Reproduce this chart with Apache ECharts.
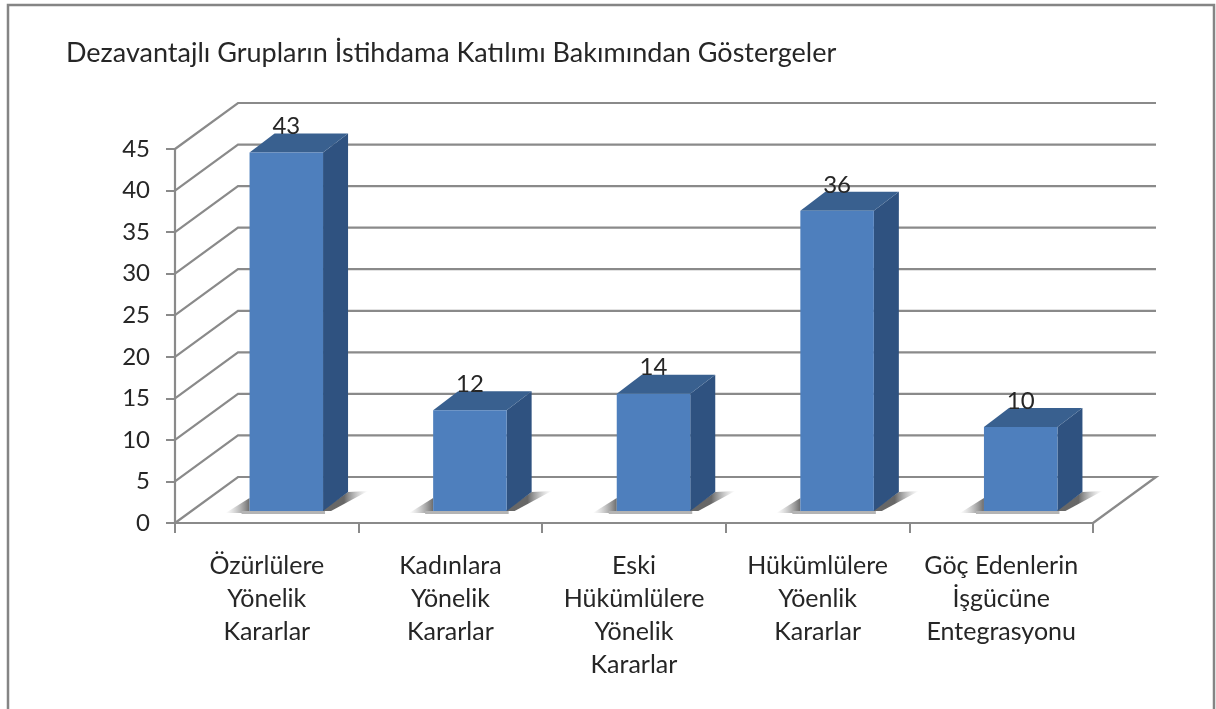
<!DOCTYPE html>
<html>
<head>
<meta charset="utf-8">
<title>Dezavantajlı Gruplar</title>
<script src="https://cdn.jsdelivr.net/npm/echarts@6/dist/echarts.min.js"></script>
<style>
    html, body { margin: 0; padding: 0; background: #fff; }
    /* the reference is a soft, scaled up scan */
    #chart { width: 1216px; height: 709px; filter: blur(0.5px); }
</style>
</head>
<body>
<div id="chart"></div>
<script>
    const chartTitle = 'Dezavantajlı Grupların İstihdama Katılımı Bakımından Göstergeler'
    const categories = [
        'Özürlülere\nYönelik\nKararlar',
        'Kadınlara\nYönelik\nKararlar',
        'Eski\nHükümlülere\nYönelik\nKararlar',
        'Hükümlülere\nYöenlik\nKararlar',
        'Göç Edenlerin\nİşgücüne\nEntegrasyonu'
    ]
    const values = [43, 12, 14, 36, 10]
    const yTicks = [0, 5, 10, 15, 20, 25, 30, 35, 40, 45]

    const fontFamily = 'Lato, "Open Sans", sans-serif'
    const textColor = '#262626'
    const lineColor = '#8a8a8a'

    // offset of the back wall from the front axes
    const wallX = 63
    const wallY = -46
    // bar box: its front face sits a little inside the floor
    const barWidth = 73.5
    const barShiftX = 19.5
    const barShiftY = -13
    const depthX = 25
    const depthY = -19

    const chart = echarts.init(document.getElementById('chart'))

    // slanted line on the side wall + horizontal line on the back wall
    function renderWall(params, api) {
        const y = api.coord([0, api.value(1)])[1]
        const rect = params.coordSys
        const isFloor = api.value(1) === 0
        const points = [
            [rect.x, y],
            [rect.x + wallX, y + wallY],
            [rect.x + rect.width + wallX, y + wallY]
        ]
        if (isFloor) {
            points.push([rect.x + rect.width, y])
        }
        return {
            type: 'polyline',
            shape: { points },
            style: { fill: null, stroke: lineColor, lineWidth: 2.2 }
        }
    }

    function renderBar(params, api) {
        const pos = api.coord([api.value(0), api.value(1)])
        const base = api.coord([api.value(0), 0])
        const left = pos[0] - barWidth / 2 + barShiftX
        const right = left + barWidth
        const top = pos[1] + barShiftY
        const bottom = base[1] + barShiftY + 1

        const poly = (points, fill) => ({ type: 'polygon', shape: { points }, style: { fill } })
        const fade = (x, y, x2, y2, color) => ({
            type: 'linear', x, y, x2, y2, global: true,
            colorStops: [{ offset: 0, color }, { offset: 1, color: 'rgba(170,170,170,0)' }]
        })

        return {
            type: 'group',
            children: [
                // floor shadow
                poly([[left - 24, bottom + 2], [left, bottom - 13], [left, bottom + 2]],
                    fade(left, 0, left - 24, 0, 'rgba(100,100,100,0.95)')),
                poly([[right - 2, bottom], [right + depthX, bottom + depthY], [right + depthX + 20, bottom + depthY - 1], [right + 8, bottom]],
                    fade(right + depthX - 4, 0, right + depthX + 20, 0, 'rgba(95,95,95,0.95)')),
                poly([[left - 8, bottom], [right + 2, bottom], [right + 2, bottom + 3], [left - 8, bottom + 3]],
                    '#b4b4b4'),
                // side
                poly([[right, top], [right + depthX, top + depthY], [right + depthX, bottom + depthY], [right, bottom]], '#2f5280'),
                // top
                poly([[left, top], [left + depthX, top + depthY], [right + depthX, top + depthY], [right, top]], '#39608f'),
                // front
                poly([[left, top], [right, top], [right, bottom], [left, bottom]], '#4e7fbd'),
                {
                    type: 'text',
                    style: {
                        x: (left + right) / 2,
                        y: top - 26,
                        text: String(api.value(1)),
                        align: 'center',
                        verticalAlign: 'middle',
                        fill: textColor,
                        font: '24px ' + fontFamily
                    }
                }
            ]
        }
    }

    const option = {
        animation: false,
        backgroundColor: '#fff',
        title: {
            text: chartTitle,
            left: 61,
            top: 35,
            textStyle: { fontFamily, fontWeight: 'normal', fontSize: 27, color: textColor }
        },
        grid: { left: 175, right: 123, top: 149, bottom: 186 },
        xAxis: {
            type: 'category',
            data: categories,
            boundaryGap: true,
            axisLine: { lineStyle: { color: lineColor, width: 2.2 } },
            axisTick: { show: true, length: 10, lineStyle: { color: lineColor, width: 2 } },
            axisLabel: {
                interval: 0,
                margin: 26,
                fontFamily,
                fontSize: 25,
                lineHeight: 33,
                color: textColor
            }
        },
        yAxis: {
            type: 'value',
            min: 0,
            max: 45,
            interval: 5,
            splitLine: { show: false },
            axisLine: { show: true, lineStyle: { color: lineColor, width: 2.2 } },
            axisTick: { show: true, length: 9, lineStyle: { color: lineColor, width: 2 } },
            axisLabel: { margin: 25, padding: [2, 0, 0, 0], fontFamily, fontSize: 24, color: textColor }
        },
        graphic: [
            // outer frame of the chart, the bottom is cut off in the picture
            {
                type: 'polyline',
                silent: true,
                shape: { points: [[8, 709], [8, 5], [1214, 5], [1214, 709]] },
                style: { fill: null, stroke: '#858585', lineWidth: 2.5 }
            }
        ],
        series: [
            {
                type: 'custom',
                coordinateSystem: 'cartesian2d',
                clip: false,
                z: 1,
                renderItem: renderWall,
                data: yTicks.map(v => [0, v])
            },
            {
                type: 'custom',
                coordinateSystem: 'cartesian2d',
                clip: false,
                z: 2,
                renderItem: renderBar,
                data: values.map((v, i) => [i, v])
            }
        ]
    }
    chart.setOption(option)
</script>
</body>
</html>
